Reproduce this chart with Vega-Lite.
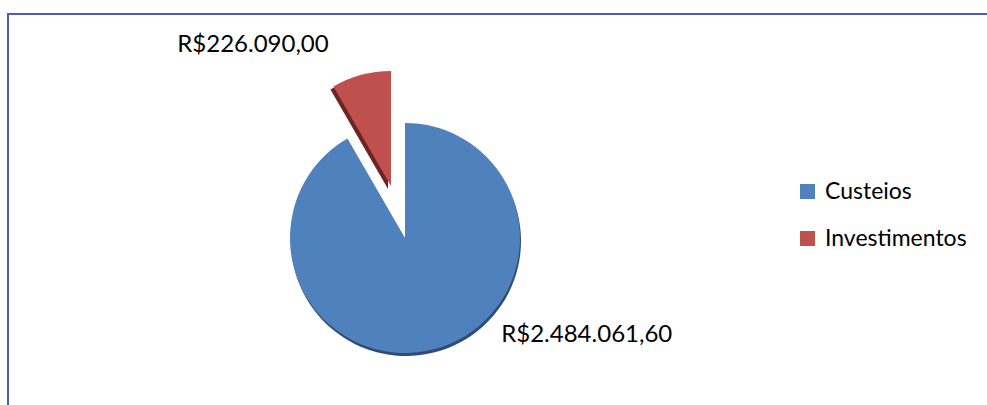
{
  "$schema": "https://vega.github.io/schema/vega-lite/v6.json",
  "width": 1000,
  "height": 420,
  "autosize": {"type": "none"},
  "padding": {"left": 8, "top": 14, "right": 0, "bottom": 0},
  "background": "white",
  "view": {"stroke": "#4B5FB9", "strokeWidth": 2},
  "config": {
    "locale": {"number": {"decimal": ",", "thousands": ".", "grouping": [3], "currency": ["R$", ""]}},
    "font": "Lato"
  },
  "data": {"values": [
    {"categoria": "Custeios", "valor": 2484061.60},
    {"categoria": "Investimentos", "valor": 226090.00}
  ]},
  "transform": [{"stack": "valor", "groupby": [], "sort": [{"field": "categoria", "order": "ascending"}], "as": ["t0", "t1"]}],
  "layer": [
    {
      "transform": [{"filter": "datum.categoria == 'Custeios'"}],
      "mark": {"type": "arc", "outerRadius": 115, "xOffset": -102, "yOffset": 17, "color": "#2E4C75"},
      "encoding": {"theta": {"field": "t1", "type": "quantitative", "stack": null, "scale": {"zero": true}}, "theta2": {"field": "t0"}}
    },
    {
      "transform": [{"filter": "datum.categoria == 'Investimentos'"}],
      "mark": {"type": "arc", "outerRadius": 115, "xOffset": -120, "yOffset": -35, "color": "#6E2422"},
      "encoding": {"theta": {"field": "t1", "type": "quantitative", "stack": null}, "theta2": {"field": "t0"}}
    },
    {
      "transform": [{"filter": "datum.categoria == 'Custeios'"}],
      "mark": {"type": "arc", "outerRadius": 115, "xOffset": -103, "yOffset": 14},
      "encoding": {
        "theta": {"field": "t1", "type": "quantitative", "stack": null},
        "theta2": {"field": "t0"},
        "color": {
          "field": "categoria", "type": "nominal",
          "scale": {"domain": ["Custeios", "Investimentos"], "range": ["#4F81BD", "#C0504D"]},
          "legend": {
            "title": null, "orient": "none", "legendX": 788, "legendY": 166,
            "symbolType": "square", "symbolSize": 225, "symbolStrokeWidth": 0,
            "labelFontSize": 23, "labelFont": "Lato", "labelColor": "#000000",
            "rowPadding": 23, "labelOffset": 6
          }
        }
      }
    },
    {
      "transform": [{"filter": "datum.categoria == 'Investimentos'"}],
      "mark": {"type": "arc", "outerRadius": 115, "xOffset": -117, "yOffset": -38},
      "encoding": {
        "theta": {"field": "t1", "type": "quantitative", "stack": null},
        "theta2": {"field": "t0"},
        "color": {"field": "categoria", "type": "nominal"}
      }
    },
    {
      "transform": [{"filter": "datum.categoria == 'Custeios'"}],
      "mark": {"type": "text", "theta": 2.061, "radius": 206, "xOffset": -103, "yOffset": 14, "fontSize": 24, "font": "Lato", "color": "#000000", "align": "center", "baseline": "middle"},
      "encoding": {"text": {"field": "valor", "type": "quantitative", "format": "$,.2f"}}
    },
    {
      "transform": [{"filter": "datum.categoria == 'Investimentos'"}],
      "mark": {"type": "text", "theta": 5.617, "radius": 246, "xOffset": -103, "yOffset": 14, "fontSize": 24, "font": "Lato", "color": "#000000", "align": "center", "baseline": "middle"},
      "encoding": {"text": {"field": "valor", "type": "quantitative", "format": "$,.2f"}}
    }
  ]
}
